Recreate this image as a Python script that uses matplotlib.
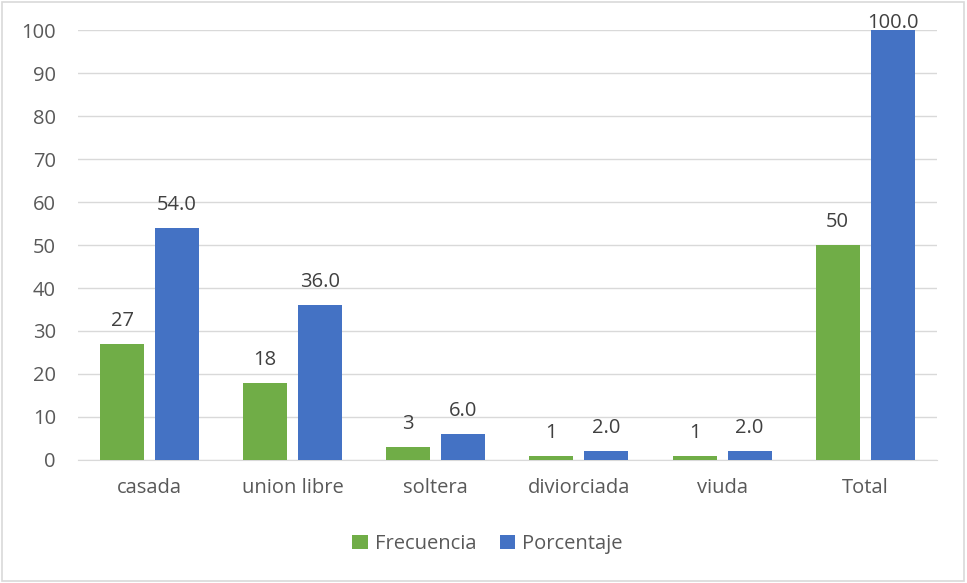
import numpy as np
import matplotlib.pyplot as plt
from matplotlib.patches import Rectangle

categories = ["casada", "union libre", "soltera", "diviorciada", "viuda", "Total"]
frecuencia = [27, 18, 3, 1, 1, 50]
porcentaje = [54.0, 36.0, 6.0, 2.0, 2.0, 100.0]

green = "#70AD47"
blue = "#4472C4"
txt = "#595959"

plt.rcParams["font.family"] = ["Open Sans", "DejaVu Sans"]

fig = plt.figure(figsize=(9.67, 5.83), dpi=100)
fig.patches.append(Rectangle((0.002, 0.003), 0.995, 0.993, transform=fig.transFigure,
                             fill=False, edgecolor="#D9D9D9", lw=1.2))
ax = fig.add_axes([0.0807, 0.211, 0.888, 0.7375])

x = np.arange(len(categories))
w = 0.307
off = 0.192
b1 = ax.bar(x - off, frecuencia, w, color=green, label="Frecuencia", zorder=3)
b2 = ax.bar(x + off, porcentaje, w, color=blue, label="Porcentaje", zorder=3)

for r, v in zip(b1, frecuencia):
    ax.annotate(f"{v}", (r.get_x() + r.get_width() / 2, v), xytext=(0, 13),
                textcoords="offset points", ha="center", va="baseline",
                fontsize=14.5, color="#404040")
for r, v in zip(b2, porcentaje):
    dy = 13 if v < 100 else 1.5
    ax.annotate(f"{v:.1f}", (r.get_x() + r.get_width() / 2, v), xytext=(0, dy),
                textcoords="offset points", ha="center", va="baseline",
                fontsize=14.5, color="#404040", annotation_clip=False)

ax.set_xlim(-0.5, len(categories) - 0.5)
ax.set_ylim(0, 100)
ax.set_yticks(range(0, 101, 10))
ax.set_xticks(x)
ax.set_xticklabels(categories)
ax.tick_params(axis="both", length=0, labelsize=14.5, colors=txt)
ax.tick_params(axis="x", pad=13)
ax.tick_params(axis="y", pad=16)
ax.grid(axis="y", color="#D9D9D9", lw=1, zorder=0)
for s in ["top", "right", "left"]:
    ax.spines[s].set_visible(False)
ax.spines["bottom"].set_color("#D9D9D9")

ax.legend(loc="upper center", bbox_to_anchor=(0.477, -0.13), ncol=2, frameon=False,
          fontsize=14.5, labelcolor=txt, handlelength=0.75, handleheight=0.75,
          handletextpad=0.35, columnspacing=1.2)

fig.savefig("out.png", dpi=100)
